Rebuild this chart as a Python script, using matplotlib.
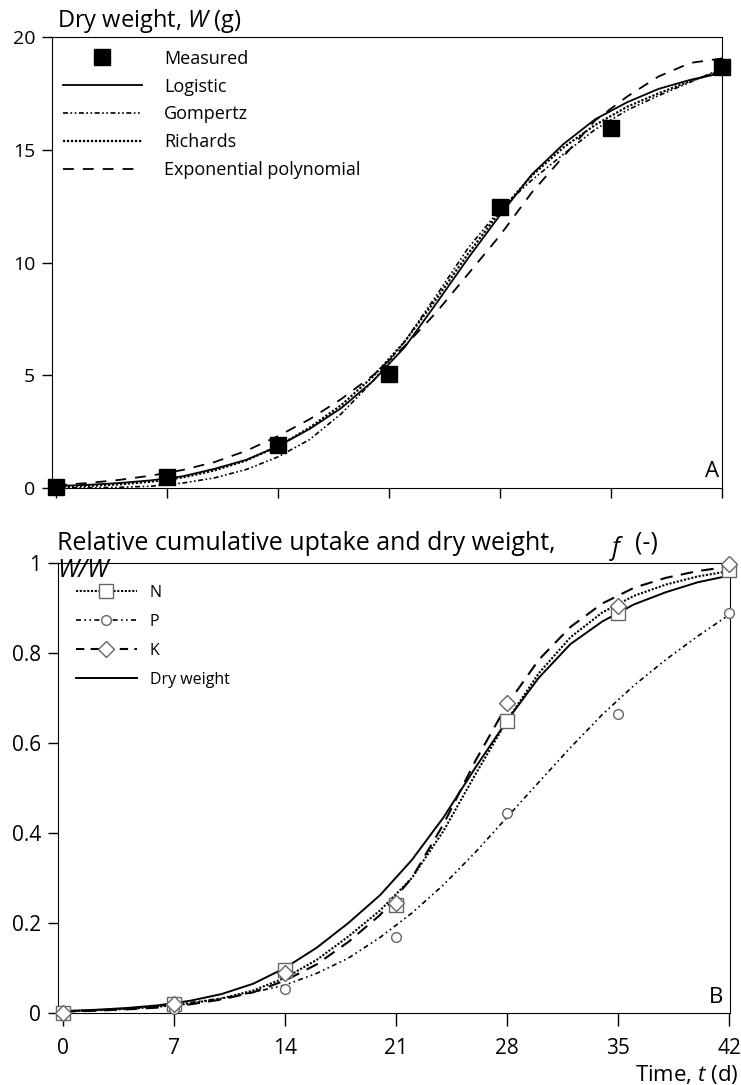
import matplotlib
matplotlib.use("Agg")
import matplotlib.pyplot as plt
from matplotlib.lines import Line2D

plt.rcParams['font.family'] = ['Open Sans', 'DejaVu Sans']
plt.rcParams['mathtext.fontset'] = 'custom'
plt.rcParams['mathtext.rm'] = 'Open Sans'
plt.rcParams['mathtext.it'] = 'Open Sans:italic'

# --- Panel A: dry weight (g), measured and fitted growth curves
days = [0, 7, 14, 21, 28, 35, 42]
measured_w = [0.05, 0.5, 1.9, 5.05, 12.45, 15.95, 18.65]

t_fit = [0, 2, 4, 6, 8, 10, 12, 14, 16, 18, 20, 22, 24, 26, 28, 30, 32, 34, 36, 38, 40, 42]
logistic_w = [0.09, 0.14, 0.22, 0.34, 0.52, 0.85, 1.25, 1.85, 2.62, 3.55, 4.75, 6.25, 8.20, 10.20, 12.10,
              13.90, 15.25, 16.35, 17.10, 17.70, 18.10, 18.40]
gompertz_w = [0.0, 0.01, 0.03, 0.08, 0.22, 0.45, 0.82, 1.38, 2.15, 3.30, 4.75, 6.50, 8.55, 10.65, 12.35,
              13.65, 14.80, 15.90, 16.75, 17.40, 18.00, 18.60]
richards_w = [0.05, 0.09, 0.16, 0.28, 0.47, 0.78, 1.22, 1.85, 2.68, 3.68, 4.95, 6.50, 8.40, 10.40, 12.25,
              13.85, 15.10, 16.10, 16.90, 17.50, 18.05, 18.50]
exppoly_w = [0.12, 0.22, 0.36, 0.55, 0.80, 1.15, 1.65, 2.30, 3.05, 3.95, 5.00, 6.30, 7.80, 9.50, 11.20,
             13.10, 14.70, 16.30, 17.35, 18.25, 18.85, 19.05]

# --- Panel B: relative cumulative uptake and dry weight (-)
uptake_n = [0.0, 0.02, 0.095, 0.24, 0.65, 0.89, 0.985]
uptake_p = [0.0, 0.01, 0.053, 0.17, 0.445, 0.665, 0.89]
uptake_k = [0.0, 0.02, 0.09, 0.245, 0.69, 0.905, 0.998]

fit_n = [0.004, 0.006, 0.009, 0.014, 0.021, 0.032, 0.050, 0.078, 0.118, 0.170, 0.228, 0.300, 0.405, 0.530,
         0.650, 0.755, 0.835, 0.890, 0.927, 0.952, 0.970, 0.982]
fit_p = [0.003, 0.006, 0.010, 0.015, 0.023, 0.033, 0.046, 0.062, 0.088, 0.122, 0.168, 0.222, 0.285, 0.357,
         0.435, 0.513, 0.590, 0.663, 0.728, 0.785, 0.837, 0.885]
fit_k = [0.003, 0.005, 0.008, 0.012, 0.019, 0.030, 0.046, 0.072, 0.108, 0.158, 0.218, 0.300, 0.420, 0.560,
         0.685, 0.785, 0.858, 0.910, 0.945, 0.967, 0.982, 0.992]
fit_dw = [0.004, 0.007, 0.011, 0.017, 0.027, 0.042, 0.065, 0.100, 0.145, 0.200, 0.262, 0.340, 0.435, 0.545,
          0.650, 0.745, 0.820, 0.870, 0.908, 0.935, 0.957, 0.972]

W, H = 741, 1085


def fx(px):
    return px / W


def fy(py):
    return 1 - py / H


fig = plt.figure(figsize=(W / 100, H / 100), dpi=100)

# panel A
ax1 = fig.add_axes([fx(52), fy(488), 670 / W, 451 / H])
l_log, = ax1.plot(t_fit, logistic_w, color='k', lw=1.3)
l_gom, = ax1.plot(t_fit, gompertz_w, color='k', lw=1.2, ls=(0, (3, 1.5, 1, 1.5, 1, 1.5)))
l_ric, = ax1.plot(t_fit, richards_w, color='k', lw=1.6, ls=(0, (1, 0.8)))
l_exp, = ax1.plot(t_fit, exppoly_w, color='k', lw=1.3, ls=(0, (6, 5)))
l_meas, = ax1.plot(days, measured_w, 's', color='k', ms=11.5, clip_on=False, zorder=5)
ax1.set_xlim(-0.25, 42)
ax1.set_ylim(0, 20)
ax1.set_xticks(days)
ax1.set_xticklabels([])
ax1.set_yticks([0, 5, 10, 15, 20])
ax1.tick_params(direction='out', length=7, width=1, labelsize=14, pad=5)
ax1.legend([l_meas, l_log, l_gom, l_ric, l_exp],
           ['Measured', 'Logistic', 'Gompertz', 'Richards', 'Exponential polynomial'],
           loc='upper left', bbox_to_anchor=(0.016, 0.972), frameon=False, fontsize=13,
           handlelength=4.4, handletextpad=1.2, labelspacing=0.55, borderpad=0, borderaxespad=0,
           numpoints=1)
fig.text(fx(719), fy(477), 'A', fontsize=16, ha='right', va='baseline')
fig.text(fx(57), fy(27), 'Dry weight, $W$ (g)', fontsize=17, va='baseline')

# panel B
ax2 = fig.add_axes([fx(58), fy(1013), 672 / W, 450 / H])
mk = dict(mfc='white', mec='#666666', mew=1.0, clip_on=False, zorder=5)
ax2.plot(t_fit, fit_n, color='k', lw=1.5, ls=(0, (1, 0.8)))
ax2.plot(t_fit, fit_p, color='k', lw=1.2, ls=(0, (3, 2, 1, 2, 1, 2)))
ax2.plot(t_fit, fit_k, color='k', lw=1.5, ls=(0, (6, 4)))
ax2.plot(t_fit, fit_dw, color='k', lw=1.4)
ax2.plot(days, uptake_n, 's', ms=10.5, ls='none', **mk)
ax2.plot(days, uptake_p, 'o', ms=7, ls='none', **mk)
ax2.plot(days, uptake_k, 'D', ms=8, ls='none', **mk)
ax2.set_xlim(-0.3, 42.05)
ax2.set_ylim(0, 1)
ax2.set_xticks(days)
ax2.set_yticks([0, 0.2, 0.4, 0.6, 0.8, 1])
ax2.set_yticklabels(['0', '0.2', '0.4', '0.6', '0.8', '1'])
ax2.tick_params(direction='out', length=7, width=1, labelsize=15, pad=5)
ax2.tick_params(axis='x', length=9, pad=9)

h_n = Line2D([], [], color='k', lw=1.5, ls=(0, (1, 0.8)), marker='s', ms=10.5,
             mfc='white', mec='#666666')
h_p = Line2D([], [], color='k', lw=1.2, ls=(0, (3, 2, 1, 2, 1, 2)), marker='o', ms=7,
             mfc='white', mec='#666666')
h_k = Line2D([], [], color='k', lw=1.5, ls=(0, (4, 3)), marker='D', ms=8,
             mfc='white', mec='#666666')
h_dw = Line2D([], [], color='k', lw=1.4)
ax2.legend([h_n, h_p, h_k, h_dw], ['N', 'P', 'K', 'Dry weight'],
           loc='upper left', bbox_to_anchor=(0.027, 0.952), frameon=False, fontsize=11.5,
           handlelength=3.8, handletextpad=0.8, labelspacing=0.82, borderpad=0, borderaxespad=0,
           numpoints=1)
fig.text(fx(723), fy(1003), 'B', fontsize=16, ha='right', va='baseline')

fig.text(fx(57), fy(550), 'Relative cumulative uptake and dry weight,', fontsize=18, va='baseline')
fig.text(fx(57), fy(577), 'W/W', fontsize=18, style='italic', va='baseline')
fig.text(fx(612), fy(555), 'f', fontsize=18, style='italic', va='baseline')
fig.text(fx(635), fy(550), '(-)', fontsize=18, va='baseline')
fig.text(fx(739), fy(1081), 'Time, $t$ (d)', fontsize=16, ha='right', va='baseline')

fig.savefig('out.png', dpi=100)
